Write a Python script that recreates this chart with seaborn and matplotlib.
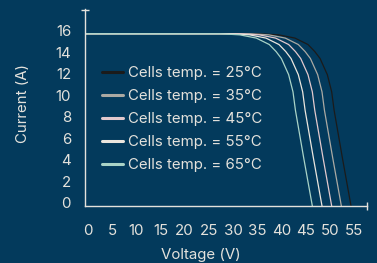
import pandas as pd
import matplotlib
matplotlib.use("Agg")
import matplotlib.pyplot as plt
import matplotlib.transforms as mtransforms
import seaborn as sns

# I-V curves, one voltage list per cell temperature
current = [16, 16, 15.9, 15.6, 15.0, 14.35, 13.7, 12.2, 10.6, 8.9, 4.5, 0]
v_25 = [0, 36, 40, 43.4, 46.1, 47.5, 48.6, 50.1, 51.0, 51.5, 53.2, 55.0]
v_35 = [0, 34, 38, 41.4, 44.1, 45.5, 46.6, 48.1, 49.0, 49.5, 51.2, 53.0]
v_45 = [0, 32, 36, 39.4, 42.1, 43.5, 44.6, 46.1, 47.0, 47.5, 49.2, 51.0]
v_55 = [0, 30, 34, 37.4, 40.1, 41.5, 42.6, 44.1, 45.0, 45.5, 47.2, 49.0]
v_65 = [0, 28, 32, 35.4, 38.1, 39.5, 40.6, 42.1, 43.0, 43.5, 45.2, 47.0]
labels = ["Cells temp. = 25°C", "Cells temp. = 35°C", "Cells temp. = 45°C",
          "Cells temp. = 55°C", "Cells temp. = 65°C"]
x_ticks = [0, 5, 10, 15, 20, 25, 30, 35, 40, 45, 50, 55]
y_ticks = [0, 2, 4, 6, 8, 10, 12, 14, 16]

bg = "#033a5c"
fg = "#e4e2dc"
colors = ["#1b1b1b", "#aaa9a3", "#e2c9cd", "#ebe6de", "#a9d3c7"]
fs = 10.8

df = pd.concat([
    pd.DataFrame({"Voltage": v, "Current": current, "curve": lab})
    for v, lab in zip([v_25, v_35, v_45, v_55, v_65], labels)
], ignore_index=True)

sns.set_style("white")
plt.rcParams["font.family"] = ["Inter", "DejaVu Sans"]

fig = plt.figure(figsize=(3.77, 2.63), dpi=100, facecolor=bg)
ax = fig.add_axes([85 / 377, 1 - 206 / 263, 282 / 377, 197 / 263])
ax.set_facecolor(bg)

sns.lineplot(data=df, x="Voltage", y="Current", hue="curve",
             palette=dict(zip(labels, colors)), hue_order=labels,
             lw=0.9, ax=ax, legend=True)

ax.set_xlim(0, 58.3)
ax.set_ylim(0, 18.3)
ax.set_xticks(x_ticks)
ax.set_yticks(y_ticks)
ax.set_xticks([58.2], minor=True)
ax.set_yticks([18.2], minor=True)
ax.tick_params(which="major", length=0, labelsize=fs, labelcolor=fg)
ax.tick_params(axis="x", which="major", pad=13)
ax.tick_params(axis="y", which="major", pad=10)
ax.tick_params(which="minor", left=True, bottom=True, length=6, width=1,
               direction="inout", color=fg, labelleft=False, labelbottom=False)
for lab in ax.get_xticklabels():
    lab.set_transform(lab.get_transform() +
                      mtransforms.ScaledTranslation(3 / 100, 0, fig.dpi_scale_trans))
for lab in ax.get_yticklabels():
    lab.set_transform(lab.get_transform() +
                      mtransforms.ScaledTranslation(0, 3 / 100, fig.dpi_scale_trans))

for side in ["top", "right"]:
    ax.spines[side].set_visible(False)
for side in ["left", "bottom"]:
    ax.spines[side].set_color(fg)
    ax.spines[side].set_linewidth(1)

ax.set_xlabel("Voltage (V)", color=fg, fontsize=fs)
ax.xaxis.set_label_coords(0.41, -0.215)
ax.set_ylabel("Current (A)", color=fg, fontsize=fs)
ax.yaxis.set_label_coords(-0.195, 0.52)

leg = ax.legend(loc="upper left", bbox_to_anchor=(0.062, 0.71), frameon=False,
                fontsize=fs, handlelength=1.35, handletextpad=0.35,
                labelspacing=0.6, borderaxespad=0, borderpad=0)
for txt in leg.get_texts():
    txt.set_color(fg)
for h in leg.legend_handles:
    h.set_linewidth(2.2)

fig.savefig("out.png", dpi=100, facecolor=bg)
